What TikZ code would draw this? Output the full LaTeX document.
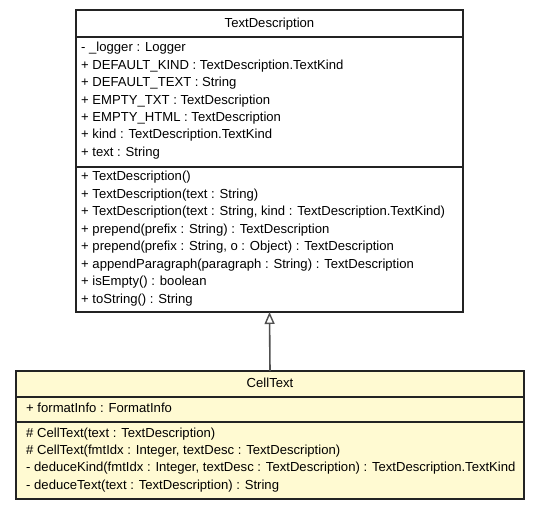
\documentclass[tikz,border=0pt]{standalone}
\usepackage{fontspec}
\setmainfont{Liberation Sans}
\usetikzlibrary{arrows.meta}
\definecolor{umlline}{RGB}{35,35,35}
\definecolor{umlarrow}{RGB}{80,80,80}
\definecolor{umlfill}{RGB}{255,250,210}
\begin{document}
\begin{tikzpicture}[x=1pt,y=-1pt,
  classbox/.style={draw=umlline, line width=1.5pt, anchor=north west,
    inner sep=0pt, outer sep=0pt},
  sepline/.style={draw=umlline, line width=1.5pt},
  member/.style={anchor=base west, inner sep=0pt,
    font=\fontsize{13.1}{16}\selectfont},
  classname/.style={anchor=base, inner sep=0pt,
    font=\fontsize{13.1}{16}\selectfont},
  inherit/.style={draw=umlarrow, line width=1.6pt,
    -{Triangle[open, width=10pt, length=12pt, line width=1.4pt]}}]
\useasboundingbox (0,0) rectangle (540,509);

% superclass TextDescription
\node[classbox, minimum width=387pt, minimum height=302pt] (td) at (76,10) {};
\draw[sepline] (76,37) -- (463,37);
\draw[sepline] (76,167) -- (463,167);
\node[classname] (tdname) at (269.5,27) {TextDescription};
\foreach \txt [count=\i from 0] in {
  - \_logger : Logger,
  + DEFAULT\_KIND : TextDescription.TextKind,
  + DEFAULT\_TEXT : String,
  + EMPTY\_TXT : TextDescription,
  + EMPTY\_HTML : TextDescription,
  + kind : TextDescription.TextKind,
  + text : String}
  \node[member] (tdattr\i) at (81,51.8+17.4*\i) {\txt};
\foreach \txt [count=\i from 0] in {
  + TextDescription(),
  + TextDescription(text : String),
  {+ TextDescription(text : String, kind : TextDescription.TextKind)},
  + prepend(prefix : String) : TextDescription,
  {+ prepend(prefix : String, o : Object) : TextDescription},
  + appendParagraph(paragraph : String) : TextDescription,
  + isEmpty() : boolean,
  + toString() : String}
  \node[member] (tdop\i) at (81,180.7+17.5*\i) {\txt};

% subclass CellText
\node[classbox, fill=umlfill, minimum width=508pt, minimum height=128pt] (ct) at (16,371) {};
\draw[sepline] (16,397) -- (524,397);
\draw[sepline] (16,422) -- (524,422);
\node[classname] (ctname) at (270,387.3) {CellText};
\node[member] (ctattr0) at (26,412.3) {+ formatInfo : FormatInfo};
\foreach \txt [count=\i from 0] in {
  \# CellText(text : TextDescription),
  {\# CellText(fmtIdx : Integer, textDesc : TextDescription)},
  {- deduceKind(fmtIdx : Integer, textDesc : TextDescription) : TextDescription.TextKind},
  - deduceText(text : TextDescription) : String}
  \node[member] (ctop\i) at (26,437.3+17.25*\i) {\txt};

% generalization
\draw[inherit] (ct.north) -- (td.south);
\end{tikzpicture}
\end{document}
